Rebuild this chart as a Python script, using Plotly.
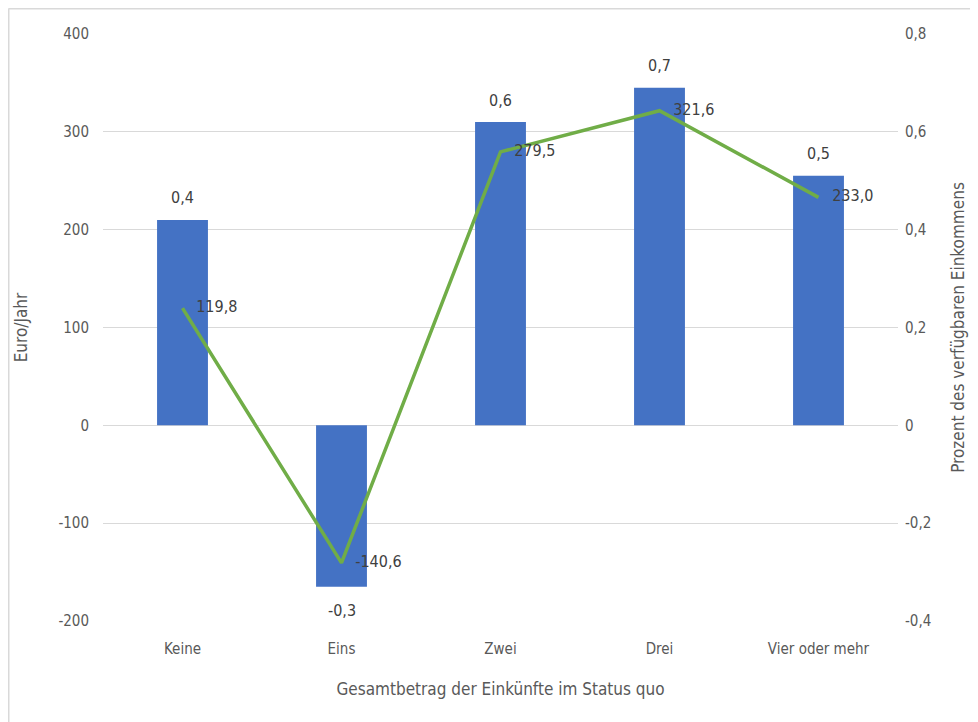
import plotly.graph_objects as go

categories = ["Keine", "Eins", "Zwei", "Drei", "Vier oder mehr"]
percent_values = [0.42, -0.33, 0.62, 0.69, 0.51]
euro_values = [119.8, -140.6, 279.5, 321.6, 233.0]
left_ticks = [-200, -100, 0, 100, 200, 300, 400]
left_tick_labels = ["-200", "-100", "0", "100", "200", "300", "400"]
right_ticks = [-0.4, -0.2, 0, 0.2, 0.4, 0.6, 0.8]
right_tick_labels = ["-0,4", "-0,2", "0", "0,2", "0,4", "0,6", "0,8"]

FONT = "Liberation Sans Narrow, Arial Narrow, DejaVu Sans Condensed, sans-serif"

fig = go.Figure()
# Bars on the percent axis (base axis "y", shown on the right)
fig.add_trace(go.Bar(
    x=categories, y=percent_values, yaxis="y",
    marker=dict(color="#4472C4", line=dict(width=0)),
    width=0.32,
))
# Line on the euro axis (overlay "y2", shown on the left) so it is drawn on top
fig.add_trace(go.Scatter(
    x=categories, y=euro_values, mode="lines+text", yaxis="y2",
    line=dict(color="#70AD47", width=3.5),
    text=["   " + f"{v:.1f}".replace(".", ",") for v in euro_values],
    textposition="middle right",
    textfont=dict(size=16, color="#404040", family=FONT),
    cliponaxis=False,
))

annotations = []
for c, v in zip(categories, percent_values):
    annotations.append(dict(
        x=c, y=v, xref="x", yref="y",
        text=f"{v:.1f}".replace(".", ","), showarrow=False,
        yanchor="middle", yshift=22 if v >= 0 else -24,
        font=dict(size=16, color="#404040", family=FONT),
    ))

# page body has an 8px offset; figure coordinates are screen minus 8
W, H = 970, 714
L, R, T, B = 95, 80, 26, 101
pw, ph = W - L - R, H - T - B

def px_to_paper_x(px):
    return (px - L) / pw

def px_to_paper_y(py):
    return (H - B - py) / ph

fig.update_layout(
    width=W, height=H,
    margin=dict(l=L, r=R, t=T, b=B),
    paper_bgcolor="white", plot_bgcolor="white",
    showlegend=False,
    font=dict(family=FONT, color="#595959", size=15),
    annotations=annotations,
    xaxis=dict(
        showgrid=False, showline=False, ticks="", automargin=False,
        ticklabelstandoff=17,
        tickfont=dict(size=15, color="#595959"),
        title=dict(text="Gesamtbetrag der Einkünfte im Status quo", font=dict(size=17, color="#595959"), standoff=26),
    ),
    yaxis=dict(
        range=[-0.4, 0.8], tickvals=right_ticks, ticktext=right_tick_labels,
        side="right", showgrid=True, gridcolor="#D9D9D9", gridwidth=1,
        zeroline=False, showline=False, ticks="", automargin=False,
        ticklabelstandoff=6,
        tickfont=dict(size=15, color="#595959"),
        title=dict(text="Prozent des verfügbaren Einkommens", font=dict(size=17, color="#595959"), standoff=21),
    ),
    yaxis2=dict(
        range=[-200, 400], tickvals=left_ticks, ticktext=left_tick_labels,
        overlaying="y", side="left", showgrid=False,
        zeroline=False, showline=False, ticks="", automargin=False,
        ticklabelstandoff=13,
        tickfont=dict(size=15, color="#595959"),
        title=dict(text="Euro/Jahr", font=dict(size=17, color="#595959"), standoff=26),
    ),
    bargap=0.68,
    shapes=[
        dict(type="line", xref="paper", yref="paper",
             x0=px_to_paper_x(0.5), x1=px_to_paper_x(0.5),
             y0=px_to_paper_y(0.5), y1=px_to_paper_y(714),
             line=dict(color="#D9D9D9", width=2)),
        dict(type="line", xref="paper", yref="paper",
             x0=px_to_paper_x(0.5), x1=px_to_paper_x(970),
             y0=px_to_paper_y(0.5), y1=px_to_paper_y(0.5),
             line=dict(color="#D9D9D9", width=2)),
    ],
)

fig.write_html("out.html")
